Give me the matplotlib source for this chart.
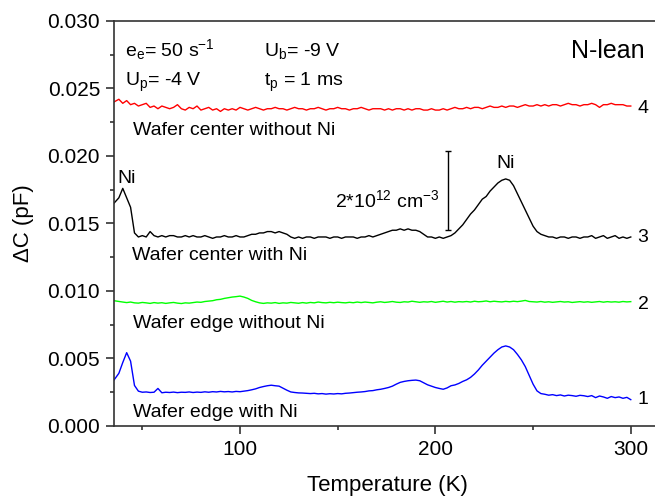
import numpy as np
import matplotlib
matplotlib.use("Agg")
import matplotlib.pyplot as plt
from matplotlib.ticker import MultipleLocator

plt.rcParams['font.family'] = ['Liberation Sans', 'DejaVu Sans']
plt.rcParams['mathtext.default'] = 'regular'

# Temperature scan (K)
temperature = [
    35.5, 38, 40, 42, 44, 46, 48, 50, 52, 54,
    56, 58, 60, 62, 64, 66, 68, 70, 72, 74,
    76, 78, 80, 82, 84, 86, 88, 90, 92, 94,
    96, 98, 100, 102, 104, 106, 108, 110, 112, 114,
    116, 118, 120, 122, 124, 126, 128, 130, 132, 134,
    136, 138, 140, 142, 144, 146, 148, 150, 152, 154,
    156, 158, 160, 162, 164, 166, 168, 170, 172, 174,
    176, 178, 180, 182, 184, 186, 188, 190, 192, 194,
    196, 198, 200, 202, 204, 206, 208, 210, 212, 214,
    216, 218, 220, 222, 224, 226, 228, 230, 232, 234,
    236, 238, 240, 242, 244, 246, 248, 250, 252, 254,
    256, 258, 260, 262, 264, 266, 268, 270, 272, 274,
    276, 278, 280, 282, 284, 286, 288, 290, 292, 294,
    296, 298, 300,
]

# Spectrum 4: wafer center without Ni (pF)
center_without_ni = [
    0.0240, 0.0242, 0.0239, 0.0241, 0.0238, 0.0239, 0.0237, 0.0238, 0.0239, 0.0236,
    0.0237, 0.0235, 0.0237, 0.0236, 0.0235, 0.0236, 0.0238, 0.0235, 0.0234, 0.0236,
    0.0235, 0.0237, 0.0234, 0.0235, 0.0236, 0.0234, 0.0235, 0.0233, 0.0235, 0.0234,
    0.0235, 0.0234, 0.0236, 0.0235, 0.0234, 0.0235, 0.0236, 0.0235, 0.0234, 0.0235,
    0.0235, 0.0236, 0.0235, 0.0235, 0.0234, 0.0235, 0.0236, 0.0235, 0.0235, 0.0234,
    0.0235, 0.0235, 0.0236, 0.0235, 0.0234, 0.0235, 0.0235, 0.0236, 0.0235, 0.0235,
    0.0234, 0.0235, 0.0235, 0.0236, 0.0235, 0.0234, 0.0235, 0.0235, 0.0235, 0.0234,
    0.0235, 0.0234, 0.0235, 0.0235, 0.0234, 0.0235, 0.0234, 0.0235, 0.0235, 0.0234,
    0.0234, 0.0235, 0.0234, 0.0234, 0.0235, 0.0234, 0.0235, 0.0236, 0.0235, 0.0235,
    0.0236, 0.0235, 0.0236, 0.0236, 0.0235, 0.0236, 0.0237, 0.0236, 0.0236, 0.0237,
    0.0236, 0.0237, 0.0237, 0.0236, 0.0237, 0.0238, 0.0237, 0.0237, 0.0238, 0.0237,
    0.0238, 0.0237, 0.0238, 0.0238, 0.0237, 0.0238, 0.0239, 0.0238, 0.0238, 0.0237,
    0.0238, 0.0238, 0.0239, 0.0238, 0.0236, 0.0238, 0.0238, 0.0239, 0.0238, 0.0238,
    0.0238, 0.0237, 0.0237,
]

# Spectrum 3: wafer center with Ni (pF)
center_with_ni = [
    0.0165, 0.0169, 0.0176, 0.0169, 0.0162, 0.0143, 0.0140, 0.0141, 0.0140, 0.0144,
    0.0141, 0.0140, 0.0141, 0.0140, 0.0141, 0.0141, 0.0140, 0.0140, 0.0141, 0.0140,
    0.0141, 0.0140, 0.0140, 0.0141, 0.0140, 0.0139, 0.0140, 0.0140, 0.0141, 0.0140,
    0.0140, 0.0141, 0.0140, 0.0140, 0.0141, 0.0142, 0.0142, 0.0143, 0.0143, 0.0144,
    0.0144, 0.0143, 0.0144, 0.0143, 0.0142, 0.0140, 0.0139, 0.0140, 0.0139, 0.0140,
    0.0140, 0.0139, 0.0140, 0.0140, 0.0140, 0.0139, 0.0140, 0.0140, 0.0139, 0.0140,
    0.0140, 0.0140, 0.0139, 0.0140, 0.0140, 0.0141, 0.0140, 0.0141, 0.0142, 0.0143,
    0.0144, 0.0145, 0.0145, 0.0146, 0.0145, 0.0146, 0.0145, 0.0145, 0.0144, 0.0142,
    0.0140, 0.0140, 0.0139, 0.0140, 0.0139, 0.0140, 0.0141, 0.0143, 0.0146, 0.0149,
    0.0153, 0.0157, 0.0160, 0.0164, 0.0168, 0.0170, 0.0174, 0.0177, 0.0180, 0.0182,
    0.0183, 0.0182, 0.0178, 0.0172, 0.0166, 0.0160, 0.0154, 0.0148, 0.0144, 0.0142,
    0.0141, 0.0140, 0.0140, 0.0139, 0.0140, 0.0140, 0.0139, 0.0140, 0.0140, 0.0139,
    0.0140, 0.0140, 0.0141, 0.0139, 0.0140, 0.0141, 0.0139, 0.0140, 0.0141, 0.0139,
    0.0140, 0.0139, 0.0140,
]

# Spectrum 2: wafer edge without Ni (pF)
edge_without_ni = [
    0.00928, 0.00922, 0.00918, 0.00914, 0.00918, 0.00912, 0.00910, 0.00915, 0.00912, 0.00908,
    0.00914, 0.00910, 0.00913, 0.00908, 0.00912, 0.00915, 0.00910, 0.00907, 0.00912, 0.00910,
    0.00914, 0.00918, 0.00916, 0.00922, 0.00925, 0.00928, 0.00935, 0.00938, 0.00945, 0.00950,
    0.00955, 0.00958, 0.00962, 0.00955, 0.00945, 0.00930, 0.00920, 0.00912, 0.00908, 0.00912,
    0.00910, 0.00914, 0.00908, 0.00912, 0.00910, 0.00915, 0.00912, 0.00909, 0.00914, 0.00910,
    0.00915, 0.00912, 0.00918, 0.00914, 0.00912, 0.00916, 0.00913, 0.00917, 0.00914, 0.00912,
    0.00916, 0.00913, 0.00918, 0.00914, 0.00918, 0.00915, 0.00912, 0.00917, 0.00920, 0.00915,
    0.00918, 0.00922, 0.00917, 0.00915, 0.00920, 0.00918, 0.00924, 0.00920, 0.00916, 0.00920,
    0.00918, 0.00922, 0.00916, 0.00920, 0.00924, 0.00918, 0.00922, 0.00917, 0.00921, 0.00919,
    0.00922, 0.00918, 0.00924, 0.00920, 0.00922, 0.00926, 0.00920, 0.00924, 0.00921, 0.00919,
    0.00923, 0.00920, 0.00924, 0.00921, 0.00925, 0.00930, 0.00922, 0.00920, 0.00918, 0.00922,
    0.00917, 0.00920, 0.00916, 0.00919, 0.00922, 0.00918, 0.00920, 0.00915, 0.00918, 0.00921,
    0.00917, 0.00920, 0.00916, 0.00919, 0.00922, 0.00917, 0.00921, 0.00918, 0.00920, 0.00917,
    0.00922, 0.00919, 0.00921,
]

# Spectrum 1: wafer edge with Ni (pF)
edge_with_ni = [
    0.00340, 0.00390, 0.00470, 0.00543, 0.00480, 0.00300, 0.00258, 0.00250, 0.00252, 0.00248,
    0.00250, 0.00278, 0.00246, 0.00250, 0.00248, 0.00251, 0.00247, 0.00250, 0.00249, 0.00252,
    0.00248, 0.00251, 0.00249, 0.00253, 0.00250, 0.00254, 0.00252, 0.00256, 0.00253, 0.00255,
    0.00252, 0.00256, 0.00254, 0.00258, 0.00262, 0.00268, 0.00275, 0.00285, 0.00292, 0.00298,
    0.00302, 0.00298, 0.00295, 0.00280, 0.00265, 0.00252, 0.00248, 0.00245, 0.00244, 0.00242,
    0.00240, 0.00242, 0.00238, 0.00240, 0.00236, 0.00239, 0.00237, 0.00240, 0.00238, 0.00242,
    0.00244, 0.00247, 0.00250, 0.00252, 0.00255, 0.00260, 0.00262, 0.00268, 0.00272, 0.00278,
    0.00285, 0.00295, 0.00310, 0.00323, 0.00330, 0.00335, 0.00338, 0.00340, 0.00335, 0.00320,
    0.00305, 0.00295, 0.00285, 0.00278, 0.00272, 0.00282, 0.00298, 0.00304, 0.00315, 0.00330,
    0.00342, 0.00360, 0.00385, 0.00415, 0.00450, 0.00480, 0.00510, 0.00540, 0.00565, 0.00585,
    0.00593, 0.00585, 0.00565, 0.00530, 0.00490, 0.00440, 0.00375, 0.00310, 0.00260, 0.00240,
    0.00235, 0.00228, 0.00232, 0.00225, 0.00230, 0.00222, 0.00228, 0.00225, 0.00220, 0.00227,
    0.00224, 0.00218, 0.00225, 0.00210, 0.00222, 0.00215, 0.00205, 0.00218, 0.00210, 0.00215,
    0.00205, 0.00212, 0.00195,
]

spectra = [
    (center_without_ni, '#ff0000'),
    (center_with_ni, '#000000'),
    (edge_without_ni, '#00ff00'),
    (edge_with_ni, '#0000ff'),
]

fig = plt.figure(figsize=(6.55, 4.97), dpi=100)
ax = fig.add_axes([0.174, 0.1429, 0.826, 0.8149])

for values, color in spectra:
    ax.plot(temperature, values, color=color, lw=1.0)

ax.set_xlim(35.5, 312.4)
ax.set_ylim(0.0, 0.030)
ax.xaxis.set_major_locator(MultipleLocator(100))
ax.xaxis.set_minor_locator(MultipleLocator(50))
ax.yaxis.set_major_locator(MultipleLocator(0.005))
ax.yaxis.set_minor_locator(MultipleLocator(0.0025))
ax.yaxis.set_major_formatter(plt.FormatStrFormatter('%.3f'))

spine_color = '#333333'
for side in ('left', 'bottom', 'top'):
    ax.spines[side].set_linewidth(1.2)
    ax.spines[side].set_color(spine_color)
ax.spines['right'].set_visible(False)
ax.tick_params(which='both', direction='out', color=spine_color, width=1.2,
               labelsize=15, top=False, right=False)
ax.tick_params(which='major', length=6, pad=4)
ax.tick_params(which='minor', length=3)

ax.set_xlabel('Temperature (K)', fontsize=16, va='center')
ax.xaxis.set_label_coords(0.505, -0.148)
ax.set_ylabel('ΔC (pF)', fontsize=16, va='center')
ax.yaxis.set_label_coords(-0.168, 0.5)

fs = 14
# Measurement conditions
ax.text(41.1, 0.02741, r'e$_e$= 50 s$^{-1}$', fontsize=fs, va='baseline')
ax.text(112.5, 0.02741, r'U$_b$= -9 V', fontsize=fs, va='baseline')
ax.text(41.1, 0.02519, r'U$_p$= -4 V', fontsize=fs, va='baseline')
ax.text(112.5, 0.02519, r't$_p$ = 1 ms', fontsize=fs, va='baseline')
ax.text(307.3, 0.02723, 'N-lean', fontsize=18, ha='right', va='baseline')

# Sample descriptions
ax.text(45.2, 0.02156, 'Wafer center without Ni', fontsize=fs, va='baseline')
ax.text(44.8, 0.0123, 'Wafer center with Ni', fontsize=fs, va='baseline')
ax.text(45.1, 0.00724, 'Wafer edge without Ni', fontsize=fs, va='baseline')
ax.text(45.1, 0.00069, 'Wafer edge with Ni', fontsize=fs, va='baseline')

# Spectrum numbers
ax.text(303.5, 0.02321, '4', fontsize=fs, va='baseline')
ax.text(303.5, 0.01365, '3', fontsize=fs, va='baseline')
ax.text(303.5, 0.00864, '2', fontsize=fs, va='baseline')
ax.text(303.5, 0.00163, '1', fontsize=fs, va='baseline')

# Peak assignments
ax.text(37.2, 0.01802, 'Ni', fontsize=fs, va='baseline')
ax.text(231.4, 0.01909, 'Ni', fontsize=fs, va='baseline')

# Concentration scale bar
bar_low, bar_high = 0.01452, 0.02037
ax.errorbar([206.3], [(bar_low + bar_high) / 2], yerr=[(bar_high - bar_low) / 2],
            color='black', lw=1.0, capsize=2.5, capthick=1.0)
ax.text(148.6, 0.01624, r'2*10$^{12}$ cm$^{-3}$', fontsize=fs, va='baseline')

fig.savefig('out.png', dpi=100)
